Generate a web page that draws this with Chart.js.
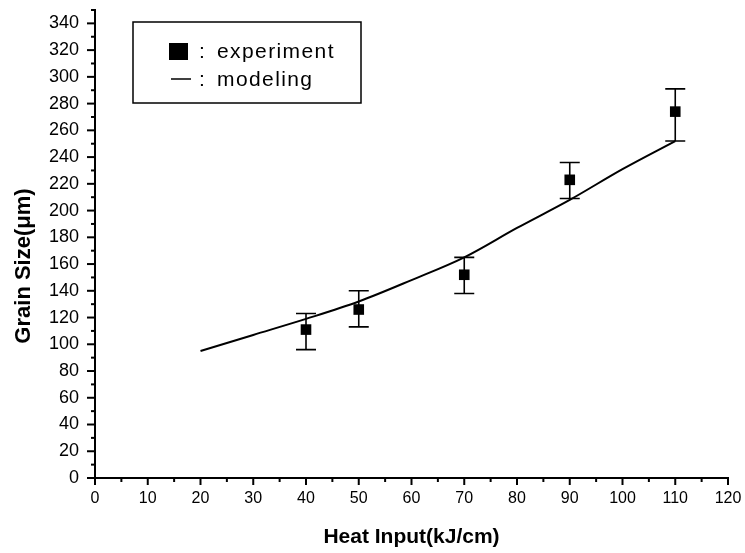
<!DOCTYPE html>
<html>
<head>
<meta charset="utf-8">
<script src="https://cdn.jsdelivr.net/npm/chart.js@4"></script>
<style>
  body { margin: 0; background: #fff; }
  #wrap { width: 745px; height: 553px; }
</style>
</head>
<body>
<div id="wrap"><canvas id="grain-chart" width="745" height="553"></canvas></div>
<script>
// datos
const heatInput = [40, 50, 70, 90, 110];
const grainSize = [111, 126, 152, 223, 274];
const errLow = [96, 113, 138, 209, 252];
const errHigh = [123, 140, 165, 236, 291];

const modelX = [20, 30, 40, 50, 60, 70, 80, 90, 100, 110];
const modelY = [95, 107, 119, 132, 148, 165, 187, 208, 231, 252];

const xTicks = [0, 10, 20, 30, 40, 50, 60, 70, 80, 90, 100, 110, 120];
const yTicks = [0, 20, 40, 60, 80, 100, 120, 140, 160, 180, 200, 220, 240, 260, 280, 300, 320, 340];

const FONT = "'Liberation Sans', Arial, sans-serif";

// barras de error, marcas del eje, titulo Y y leyenda
const extras = {
  id: 'extras',
  afterDatasetsDraw(chart) {
    const ctx = chart.ctx;
    const x = chart.scales.x, y = chart.scales.y;
    ctx.save();
    ctx.strokeStyle = '#000';
    ctx.lineWidth = 1.6;
    heatInput.forEach((v, i) => {
      const px = x.getPixelForValue(v);
      const top = y.getPixelForValue(errHigh[i]);
      const bot = y.getPixelForValue(errLow[i]);
      ctx.beginPath();
      ctx.moveTo(px, top); ctx.lineTo(px, bot);
      ctx.moveTo(px - 10, top); ctx.lineTo(px + 10, top);
      ctx.moveTo(px - 10, bot); ctx.lineTo(px + 10, bot);
      ctx.stroke();
    });
    ctx.restore();
  },
  afterDraw(chart) {
    const ctx = chart.ctx;
    const x = chart.scales.x, y = chart.scales.y;
    const area = chart.chartArea;
    ctx.save();
    ctx.strokeStyle = '#000';
    ctx.lineWidth = 2;
    // ticks eje y (mayores cada 20, menores cada 10)
    for (let v = 0; v <= 350; v += 10) {
      const py = y.getPixelForValue(v);
      const len = yTicks.includes(v) ? 8 : 4;
      ctx.beginPath();
      ctx.moveTo(area.left, py); ctx.lineTo(area.left - len, py);
      ctx.stroke();
    }
    // ticks eje x (mayores cada 10, menores cada 5)
    for (let v = 0; v <= 120; v += 5) {
      const px = x.getPixelForValue(v);
      const len = xTicks.includes(v) ? 7 : 4;
      ctx.beginPath();
      ctx.moveTo(px, area.bottom); ctx.lineTo(px, area.bottom + len);
      ctx.stroke();
    }
    // titulo eje y
    ctx.fillStyle = '#000';
    ctx.font = 'bold 22px ' + FONT;
    ctx.textAlign = 'center';
    ctx.textBaseline = 'middle';
    ctx.translate(24, 266);
    ctx.rotate(-Math.PI / 2);
    ctx.fillText('Grain Size(μm)', 0, 0);
    ctx.restore();

    // leyenda
    ctx.save();
    ctx.strokeStyle = '#000';
    ctx.lineWidth = 1.5;
    ctx.strokeRect(133, 22, 228, 81);
    ctx.fillStyle = '#000';
    ctx.fillRect(169, 43, 19, 17);
    ctx.beginPath();
    ctx.moveTo(171, 79); ctx.lineTo(191, 79);
    ctx.stroke();
    ctx.font = '21px ' + FONT;
    ctx.textBaseline = 'middle';
    ctx.textAlign = 'left';
    ctx.fillText(':', 199, 52);
    ctx.fillText(':', 199, 80);
    ctx.letterSpacing = '1.4px';
    ctx.fillText('experiment', 217, 52);
    ctx.fillText('modeling', 217, 80);
    ctx.restore();
  }
};

const containerChart = document.querySelector('#grain-chart').getContext('2d');

const dataChart = {
  datasets: [
    {
      label: 'experiment',
      data: heatInput.map((v, i) => ({ x: v, y: grainSize[i] })),
      showLine: false,
      pointStyle: 'rect',
      pointRadius: 7.5,
      backgroundColor: '#000',
      borderColor: '#000',
      borderWidth: 0,
    },
    {
      label: 'modeling',
      data: modelX.map((v, i) => ({ x: v, y: modelY[i] })),
      showLine: true,
      pointRadius: 0,
      borderColor: '#000',
      borderWidth: 2,
      cubicInterpolationMode: 'monotone',
    },
  ],
};

const configChart = {
  type: 'scatter',
  data: dataChart,
  options: {
    responsive: false,
    animation: false,
    layout: { padding: { left: 0, top: 10, right: 17, bottom: 0 } },
    plugins: { legend: { display: false }, tooltip: { enabled: false } },
    scales: {
      x: {
        type: 'linear',
        min: 0,
        max: 120,
        afterFit(scale) {
          scale.height = 75;
          scale.paddingLeft = 0;
          scale.paddingRight = 0;
        },
        afterBuildTicks(scale) { scale.ticks = xTicks.map(v => ({ value: v })); },
        grid: { display: false, drawTicks: false },
        border: { display: true, color: '#000', width: 2 },
        ticks: { color: '#000', padding: 11, maxRotation: 0, font: { family: FONT, size: 16 } },
        title: {
          display: true,
          text: 'Heat Input(kJ/cm)',
          color: '#000',
          font: { family: FONT, size: 21, weight: 'bold' },
          padding: { top: 0, bottom: 3 },
        },
      },
      y: {
        type: 'linear',
        min: 0,
        max: 350,
        afterFit(scale) {
          scale.width = 95;
          scale.paddingTop = 0;
          scale.paddingBottom = 0;
        },
        afterBuildTicks(scale) { scale.ticks = yTicks.map(v => ({ value: v })); },
        grid: { display: false, drawTicks: false },
        border: { display: true, color: '#000', width: 2 },
        ticks: { color: '#000', padding: 16, font: { family: FONT, size: 18 } },
      },
    },
  },
  plugins: [extras],
};

const grainChart = new Chart(containerChart, configChart);
</script>
</body>
</html>
